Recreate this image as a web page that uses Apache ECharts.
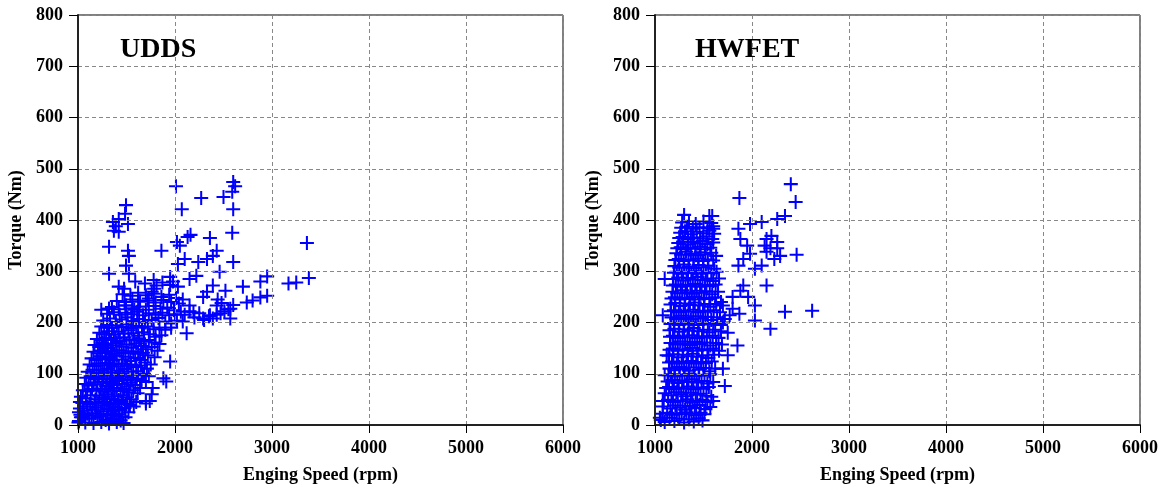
<!DOCTYPE html>
<html><head><meta charset="utf-8">
<script src="https://cdn.jsdelivr.net/npm/echarts@6/dist/echarts.min.js"></script>
<style>html,body{margin:0;padding:0;background:#fff}#c{width:1173px;height:489px}</style>
</head><body><div id="c"></div>
<script>
const xTicks = [1000, 2000, 3000, 4000, 5000, 6000];
const yTicks = [0, 100, 200, 300, 400, 500, 600, 700, 800];
const panelTitles = ['UDDS', 'HWFET'];
const xName = 'Enging Speed (rpm)';
const yName = 'Torque (Nm)';

// UDDS: [engine speed rpm, torque Nm]
const udds = [
[1010,8],[1040,15],[1075,5],[1115,12],[1160,4],[1200,14],[1240,6],[1285,10],[1320,3],[1360,12],[1400,6],[1440,9],[1470,4],
[1025,20],[1060,18],[1095,22],[1140,19],[1180,23],[1220,17],[1260,21],[1300,19],[1340,22],[1380,18],[1420,21],[1455,17],[1490,15],
[1020,32],[1060,28],[1100,36],[1150,30],[1190,34],[1235,27],[1270,38],[1310,31],[1355,26],[1390,35],[1430,29],[1480,33],[1520,25],
[1045,43],[1085,45],[1125,41],[1170,44],[1210,42],[1250,46],[1290,43],[1330,40],[1370,44],[1410,42],[1450,45],[1495,41],[1535,39],[1575,36],
[1030,55],[1080,52],[1130,58],[1180,50],[1220,57],[1260,53],[1300,60],[1345,51],[1380,56],[1420,49],[1465,58],[1505,54],[1550,50],[1600,45],
[1050,68],[1095,66],[1145,70],[1190,67],[1235,71],[1275,65],[1315,69],[1360,67],[1400,72],[1440,66],[1480,70],[1525,64],[1570,68],[1615,62],
[1070,80],[1110,77],[1160,83],[1200,79],[1250,85],[1290,76],[1330,82],[1370,78],[1410,86],[1455,80],[1500,75],[1540,83],[1590,78],[1640,72],
[1085,92],[1130,95],[1175,90],[1215,94],[1260,91],[1300,96],[1340,89],[1385,93],[1425,91],[1465,95],[1510,88],[1555,92],[1605,90],[1655,86],[1700,84],
[1100,104],[1150,108],[1190,101],[1230,107],[1270,103],[1310,110],[1350,102],[1400,106],[1440,100],[1480,109],[1520,104],[1570,98],[1620,105],[1680,100],[1730,95],
[1120,118],[1170,115],[1210,120],[1250,116],[1295,121],[1335,117],[1375,119],[1420,114],[1460,120],[1505,116],[1550,118],[1600,113],[1650,116],[1710,110],
[1140,130],[1190,127],[1230,134],[1280,129],[1320,132],[1360,126],[1400,135],[1450,128],[1490,133],[1540,125],[1590,131],[1640,127],[1690,122],[1750,118],
[1160,143],[1205,140],[1250,145],[1295,141],[1340,144],[1380,139],[1425,146],[1470,142],[1520,140],[1570,144],[1620,139],[1670,141],[1720,136],[1790,132],
[1170,156],[1220,152],[1270,158],[1310,150],[1360,155],[1400,160],[1450,153],[1500,157],[1550,151],[1600,159],[1650,154],[1700,148],[1760,152],[1820,145],
[1195,168],[1245,165],[1290,170],[1340,166],[1385,169],[1430,164],[1480,171],[1530,167],[1580,165],[1630,169],[1680,163],[1730,166],[1790,161],[1840,158],
[1220,180],[1270,177],[1320,183],[1370,176],[1420,182],[1470,178],[1520,185],[1570,179],[1620,174],[1680,181],[1740,177],[1800,172],[1860,175],
[1240,192],[1300,195],[1350,190],[1400,194],[1450,191],[1500,196],[1550,189],[1600,193],[1660,190],[1720,192],[1780,187],[1840,190],[1900,186],[1960,190],
[1260,204],[1330,208],[1390,201],[1450,206],[1510,210],[1570,203],[1630,207],[1690,200],[1760,205],[1830,209],[1900,202],[1960,198],[2020,204],
[1300,217],[1370,220],[1430,215],[1490,219],[1550,216],[1610,221],[1670,214],[1730,218],[1800,215],[1870,219],[1940,214],[2000,216],
[1350,230],[1420,226],[1490,233],[1560,228],[1630,231],[1700,225],[1780,232],[1850,227],[1920,229],[1990,224],[2060,221],
[1400,242],[1480,240],[1560,245],[1640,241],[1720,243],[1800,239],[1880,244],[1960,240],[2040,237],
[1460,255],[1540,252],[1620,258],[1700,253],[1780,256],[1860,250],[1940,254],[2010,248],[2080,245],
[1590,280],[1690,276],[1780,283],[1870,278],[1950,273],[2030,270],
[1005,5],[1010,25],[1020,45],[1030,15],[1250,160],[1290,150],[1240,225],[1300,190],[1230,145],[1260,155],[1320,227],
[2100,215],[2150,222],[2200,210],[2250,218],[2300,205],[2350,212],[2390,208],[2430,215],[2470,218],[2510,222],[2550,226],[2600,234],[2440,245],[2480,238],
[1495,429],[1485,412],[1420,402],[1360,396],[1390,388],[1420,377],[1370,379],[1515,392],[1320,348],[1515,340],[1525,330],[1495,311],[1525,295],[1320,295],[1475,266],[1420,270],[1785,266],
[1320,227],[1495,233],[1580,225],[1620,241],[1730,247],[1260,155],[1290,130],[1320,120],[1670,97],[1770,72],[1700,47],[1910,85],
[2010,466],[2070,421],[2270,443],[2500,445],[2600,474],[2620,466],[2590,455],[2600,421],[2590,375],[2600,318],
[3360,355],[3380,287],[3250,278],[3170,276],[2950,290],[2880,280],[2950,252],[2880,249],[2800,243],[2740,239],[2700,270],
[2570,227],[2570,208],[2520,262],[2390,272],[2430,233],[2360,214],[2290,208],[2460,299],[2430,340],[2390,330],[2360,365],
[2130,367],[2160,371],[2020,357],[2050,350],[2100,324],[2030,314],[1860,340],[2240,318],[2330,324],[2150,285],[2220,291],
[1950,289],[1980,280],[1810,272],[1760,260],[2330,260],[2290,250],[2150,233],[2190,220],[2080,202],[2120,179],[1950,124],[1880,91],[1740,47],[1700,42],[1760,60]
];

// HWFET: [engine speed rpm, torque Nm]
const hwfet = [
[1060,10],[1100,6],[1150,14],[1200,8],[1250,12],[1300,5],[1350,11],[1400,7],[1450,13],[1490,9],
[1080,22],[1125,24],[1175,20],[1225,23],[1275,21],[1325,25],[1375,22],[1425,19],[1470,24],[1510,21],
[1080,36],[1160,32],[1210,38],[1260,34],[1310,30],[1360,37],[1410,33],[1460,39],[1520,31],
[1090,47],[1135,49],[1185,45],[1235,48],[1285,46],[1335,50],[1385,44],[1435,47],[1490,49],[1540,45],
[1100,62],[1170,58],[1220,64],[1270,60],[1320,56],[1370,63],[1420,59],[1470,61],[1530,57],[1580,55],
[1115,72],[1145,74],[1195,70],[1245,73],[1295,71],[1345,75],[1395,70],[1445,73],[1500,71],[1555,74],
[1130,85],[1180,88],[1230,82],[1280,87],[1330,84],[1380,89],[1430,83],[1480,86],[1540,81],[1600,84],
[1140,97],[1165,99],[1205,95],[1255,98],[1305,96],[1355,100],[1405,95],[1455,98],[1510,96],[1570,99],
[1150,110],[1200,107],[1250,113],[1300,109],[1350,106],[1400,112],[1450,108],[1500,111],[1560,105],[1620,110],
[1145,122],[1175,124],[1225,120],[1275,123],[1325,121],[1375,125],[1425,120],[1475,123],[1525,121],[1585,124],
[1140,135],[1190,138],[1240,132],[1290,137],[1340,134],[1390,139],[1440,133],[1490,136],[1550,131],[1610,137],
[1150,147],[1185,149],[1235,145],[1285,148],[1335,146],[1385,150],[1435,145],[1485,148],[1540,146],[1600,149],[1660,145],
[1160,160],[1210,157],[1260,163],[1310,159],[1360,156],[1410,162],[1460,158],[1510,161],[1570,155],[1630,160],[1690,157],
[1155,172],[1185,174],[1235,170],[1285,173],[1335,171],[1385,175],[1435,170],[1485,173],[1535,171],[1595,174],[1655,170],
[1150,185],[1200,188],[1250,182],[1300,187],[1350,184],[1400,189],[1450,183],[1500,186],[1560,181],[1620,186],[1680,183],
[1160,197],[1195,199],[1245,195],[1295,198],[1345,196],[1395,200],[1445,195],[1495,198],[1545,196],[1600,199],[1680,195],
[1170,210],[1220,207],[1270,213],[1320,209],[1370,206],[1420,212],[1470,208],[1520,211],[1580,205],[1640,210],[1720,207],
[1165,222],[1195,224],[1245,220],[1295,223],[1345,221],[1395,225],[1445,220],[1495,223],[1545,221],[1605,224],[1670,220],
[1160,235],[1210,238],[1260,232],[1310,237],[1360,234],[1410,239],[1460,233],[1510,236],[1570,231],[1630,236],[1700,233],
[1170,247],[1205,249],[1255,245],[1305,248],[1355,246],[1405,250],[1455,245],[1505,248],[1560,246],[1620,249],
[1180,260],[1230,257],[1280,263],[1330,259],[1380,256],[1430,262],[1480,258],[1530,261],[1590,255],[1650,260],
[1185,272],[1215,274],[1265,270],[1315,273],[1365,271],[1415,275],[1465,270],[1515,273],[1565,271],[1625,274],
[1190,285],[1240,288],[1290,282],[1340,287],[1390,284],[1440,289],[1490,283],[1540,286],[1600,281],[1660,286],
[1195,297],[1225,299],[1275,295],[1325,298],[1375,296],[1425,300],[1475,295],[1525,298],[1580,296],[1635,299],
[1200,310],[1250,307],[1300,313],[1350,309],[1400,306],[1450,312],[1500,308],[1550,311],[1610,305],
[1210,322],[1245,324],[1295,320],[1345,323],[1395,321],[1445,325],[1495,320],[1545,323],[1600,321],
[1220,335],[1270,332],[1320,338],[1370,334],[1420,331],[1470,337],[1520,333],[1580,336],[1630,330],
[1230,345],[1265,347],[1315,343],[1365,346],[1415,344],[1465,348],[1515,343],[1570,346],
[1240,355],[1290,358],[1340,352],[1390,357],[1440,354],[1490,359],[1540,353],[1600,356],
[1250,365],[1285,367],[1340,363],[1400,366],[1465,364],[1530,368],[1590,363],
[1260,375],[1310,378],[1370,372],[1430,377],[1500,374],[1560,379],[1610,373],
[1270,385],[1330,387],[1390,383],[1460,386],[1540,384],[1600,388],
[1280,395],[1350,398],[1420,392],[1500,397],[1580,394],[1300,410],[1560,408],
[2400,470],[2450,435],[1870,443],[1590,408],[1600,383],[1980,392],[2100,396],[2260,402],[2340,408],[1860,383],[1880,363],
[1950,350],[1980,334],[1910,324],[1860,311],[2030,305],[2100,311],[2150,363],[2200,369],[2260,357],[2290,330],[2230,324],
[2150,338],[2460,332],[2130,350],[2190,345],[2260,345],[2150,272],[1910,272],[1880,262],[1960,250],[2030,233],[2340,221],
[2620,223],[1800,227],[1770,214],[1870,217],[2030,204],[2190,188],[1850,155],[1750,136],[1720,76],[1700,110],[1600,47],
[1570,35],[1080,214],[1100,285],[1080,47],[1050,14],[1100,97],[1120,136],[1700,200],[1750,180],[1800,250],[1680,240]
];

const plus = 'path://M-1.45,-10L1.45,-10L1.45,-1.45L10,-1.45L10,1.45L1.45,1.45L1.45,10L-1.45,10L-1.45,1.45L-10,1.45L-10,-1.45L-1.45,-1.45Z';
const font = 'Liberation Serif';
const grids = [
  {left: 78, right: 610, top: 15, bottom: 62},
  {left: 655, right: 33, top: 15, bottom: 62}
];
function xAx(i) {
  return {gridIndex: i, type: 'value', min: xTicks[0], max: xTicks[xTicks.length-1], interval: 1000, z: 3,
    name: xName, nameLocation: 'middle', nameGap: 41,
    nameTextStyle: {fontFamily: font, fontWeight: 'bold', fontSize: 18, color: '#000'},
    axisLine: {show: true, onZero: false, lineStyle: {color: '#222', width: 2}},
    axisTick: {show: true, length: 8, lineStyle: {color: '#000'}},
    axisLabel: {fontFamily: font, fontWeight: 'bold', fontSize: 18, color: '#000', margin: 14, formatter: v => String(v)},
    splitLine: {show: true, lineStyle: {color: '#888', type: [4, 3], width: 1}}};
}
function yAx(i) {
  return {gridIndex: i, type: 'value', min: yTicks[0], max: yTicks[yTicks.length-1], interval: 100, z: 3,
    name: yName, nameLocation: 'middle', nameGap: 53, nameRotate: 90,
    nameTextStyle: {fontFamily: font, fontWeight: 'bold', fontSize: 18, color: '#000'},
    axisLine: {show: true, onZero: false, lineStyle: {color: '#222', width: 2}},
    axisTick: {show: true, length: 9, lineStyle: {color: '#000'}},
    axisLabel: {fontFamily: font, fontWeight: 'bold', fontSize: 18, color: '#000', margin: 15, formatter: v => String(v)},
    splitLine: {show: true, lineStyle: {color: '#888', type: [4, 3], width: 1}}};
}
const chart = echarts.init(document.getElementById('c'));
chart.setOption({
  animation: false,
  backgroundColor: '#fff',
  title: [
    {text: panelTitles[0], left: 115, top: 31, textStyle: {fontFamily: font, fontWeight: 'bold', fontSize: 28, color: '#000'}},
    {text: panelTitles[1], left: 690, top: 31, textStyle: {fontFamily: font, fontWeight: 'bold', fontSize: 28, color: '#000'}}
  ],
  grid: grids.map(g => Object.assign({show: true, borderColor: '#000', borderWidth: 1, backgroundColor: '#fff'}, g)),
  xAxis: [xAx(0), xAx(1)],
  yAxis: [yAx(0), yAx(1)],
  series: [
    {type: 'scatter', xAxisIndex: 0, yAxisIndex: 0, data: udds, symbol: plus, symbolSize: 14, itemStyle: {color: '#0000ff', opacity: 1}, z: 2},
    {type: 'scatter', xAxisIndex: 1, yAxisIndex: 1, data: hwfet, symbol: plus, symbolSize: 14, itemStyle: {color: '#0000ff', opacity: 1}, z: 2}
  ]
});
</script></body></html>
